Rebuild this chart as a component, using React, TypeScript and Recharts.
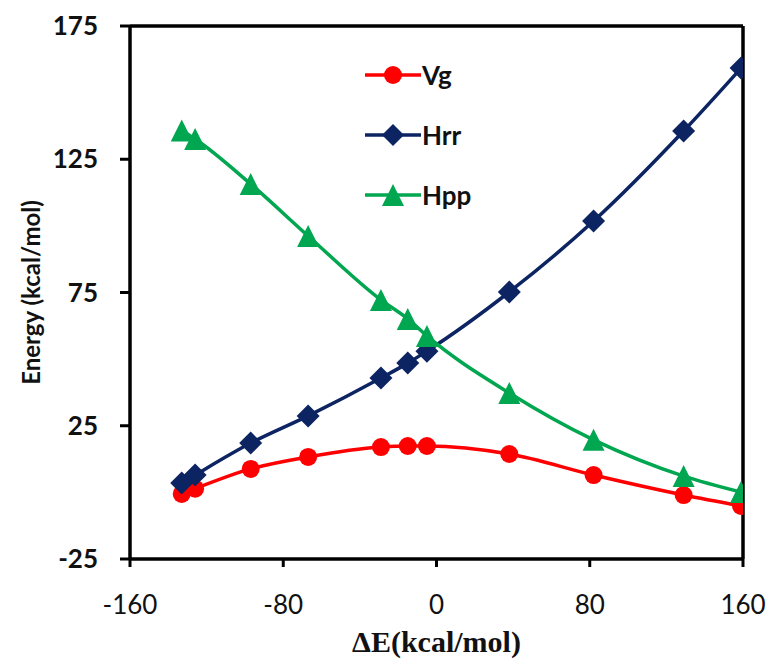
import React from "react"
import { LineChart, Line, XAxis, YAxis, Legend, ReferenceLine, Label } from "recharts"

// ΔE values (kcal/mol) shared by all series
const deltaE = [-133, -126, -97, -67, -29, -15, -5, 38, 82, 129, 159]
const vgValues = [-0.6, 1.4, 8.8, 13.3, 17.0, 17.4, 17.4, 14.4, 6.5, -1.0, -5.1]
const hrrValues = [3.5, 6.5, 18.5, 28.7, 42.9, 48.5, 53.0, 75.2, 101.8, 135.6, 159.2]
const hppValues = [135.8, 132.6, 115.7, 96.2, 72.2, 65.1, 58.7, 37.3, 19.7, 6.1, 0.1]

const xTicks = [-160, -80, 0, 80, 160]
const yTicks = [-25, 25, 75, 125, 175]

const seriesNames = ["Vg", "Hrr", "Hpp"]

const RED = "#FF0000"
const NAVY = "#0D2462"
const GREEN = "#00A650"
const FONT = "Lato, 'Open Sans', sans-serif"

const data = deltaE.map((x, i) => ({
  x,
  Vg: vgValues[i],
  Hrr: hrrValues[i],
  Hpp: hppValues[i],
}))

const CircleDot = (props: any) => {
  const { cx, cy, index } = props
  if (cx == null || cy == null) return <g key={`vg-${index}`} />
  return <circle key={`vg-${index}`} cx={cx} cy={cy} r={9} fill={RED} stroke="none" />
}

const DiamondDot = (props: any) => {
  const { cx, cy, index } = props
  if (cx == null || cy == null) return <g key={`hrr-${index}`} />
  const s = 11.5
  return (
    <path
      key={`hrr-${index}`}
      d={`M${cx},${cy - s} L${cx + s},${cy} L${cx},${cy + s} L${cx - s},${cy} Z`}
      fill={NAVY}
    />
  )
}

const TriangleDot = (props: any) => {
  const { cx, cy, index } = props
  if (cx == null || cy == null) return <g key={`hpp-${index}`} />
  const s = 11
  return (
    <path
      key={`hpp-${index}`}
      d={`M${cx},${cy - s} L${cx + s},${cy + s} L${cx - s},${cy + s} Z`}
      fill={GREEN}
    />
  )
}

const legendIcons: Record<string, { color: string; shape: (cx: number, cy: number) => React.ReactNode }> = {
  Vg: { color: RED, shape: (cx, cy) => <circle cx={cx} cy={cy} r={9} fill={RED} /> },
  Hrr: {
    color: NAVY,
    shape: (cx, cy) => (
      <path d={`M${cx},${cy - 11} L${cx + 11},${cy} L${cx},${cy + 11} L${cx - 11},${cy} Z`} fill={NAVY} />
    ),
  },
  Hpp: {
    color: GREEN,
    shape: (cx, cy) => (
      <path d={`M${cx},${cy - 11} L${cx + 11},${cy + 11} L${cx - 11},${cy + 11} Z`} fill={GREEN} />
    ),
  },
}

const renderLegend = () => (
  <div>
    {seriesNames.map((name) => (
      <div key={name} style={{ display: "flex", alignItems: "center", height: 60 }}>
        <svg width={56} height={26}>
          <line x1={0} y1={13} x2={56} y2={13} stroke={legendIcons[name].color} strokeWidth={3.5} />
          {legendIcons[name].shape(28, 13)}
        </svg>
        <span style={{ fontFamily: FONT, fontWeight: 700, fontSize: 26, color: "#111", marginLeft: 1 }}>{name}</span>
      </div>
    ))}
  </div>
)

const YTitle = (props: any) => {
  const vb = props.viewBox || {}
  const cx = 30
  const cy = (vb.y ?? 26) + (vb.height ?? 533) / 2
  return (
    <text
      x={cx}
      y={cy}
      transform={`rotate(-90 ${cx} ${cy})`}
      textAnchor="middle"
      dominantBaseline="central"
      fontFamily={FONT}
      fontWeight={700}
      fontSize={24}
      fill="#111"
    >
      Energy (kcal/mol)
    </text>
  )
}

export default function App() {
  return (
    <div style={{ position: "absolute", left: 0, top: 0, background: "#fff" }}>
      <LineChart width={771} height={666} data={data} margin={{ top: 26, right: 28, left: 0, bottom: 0 }}>
        <XAxis
          dataKey="x"
          type="number"
          domain={[-160, 160]}
          ticks={xTicks}
          height={107}
          tickSize={8}
          tickMargin={29}
          axisLine={{ stroke: "#000", strokeWidth: 3.5 }}
          tickLine={{ stroke: "#000", strokeWidth: 3 }}
          tick={{ fontFamily: FONT, fontSize: 26, fontWeight: 400, fill: "#111" }}
          allowDataOverflow
        >
          <Label
            value="ΔE(kcal/mol)"
            position="insideBottom"
            offset={14}
            style={{ fontFamily: "'Liberation Serif', serif", fontWeight: 700, fontSize: 30, fill: "#111" }}
          />
        </XAxis>
        <YAxis
          type="number"
          domain={[-25, 175]}
          ticks={yTicks}
          width={130}
          tickSize={10}
          tickMargin={22}
          axisLine={{ stroke: "#000", strokeWidth: 3.5 }}
          tickLine={{ stroke: "#000", strokeWidth: 3 }}
          tick={{ fontFamily: FONT, fontSize: 26, fontWeight: 700, fill: "#111" }}
          allowDataOverflow
        >
          <Label content={<YTitle />} />
        </YAxis>
        <ReferenceLine y={175} stroke="#000" strokeWidth={3.5} />
        <ReferenceLine x={160} stroke="#000" strokeWidth={3.5} />
        <Legend
          layout="vertical"
          align="center"
          verticalAlign="middle"
          content={renderLegend}
          wrapperStyle={{ top: 45, left: 365, width: 140 }}
        />
        <Line
          type="monotone"
          dataKey="Vg"
          stroke={RED}
          strokeWidth={3.5}
          dot={CircleDot}
          activeDot={false}
          isAnimationActive={false}
        />
        <Line
          type="monotone"
          dataKey="Hrr"
          stroke={NAVY}
          strokeWidth={3.5}
          dot={DiamondDot}
          activeDot={false}
          isAnimationActive={false}
        />
        <Line
          type="monotone"
          dataKey="Hpp"
          stroke={GREEN}
          strokeWidth={3.5}
          dot={TriangleDot}
          activeDot={false}
          isAnimationActive={false}
        />
      </LineChart>
    </div>
  )
}
